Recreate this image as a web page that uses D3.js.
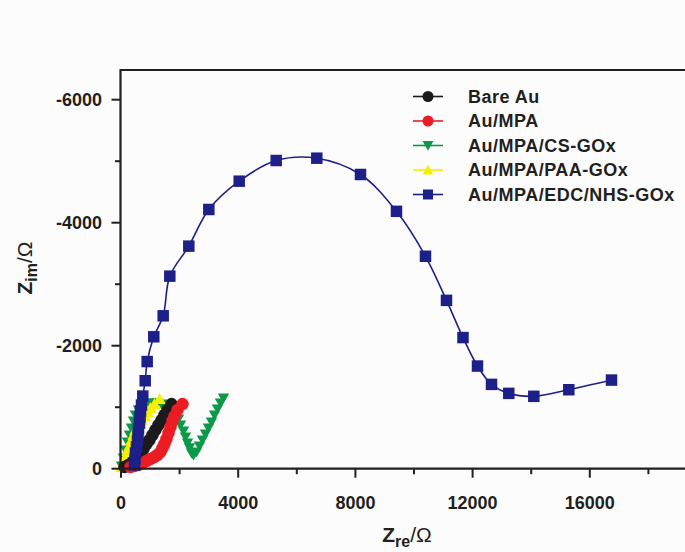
<!DOCTYPE html>
<html>
<head>
<meta charset="utf-8">
<script src="https://cdn.jsdelivr.net/npm/d3@7"></script>
<style>
  body { margin: 0; background: #fcfcfc; }
  svg { display: block; font-family: "Liberation Sans", Arial, sans-serif; }
</style>
</head>
<body>
<svg id="chart" width="685" height="552"></svg>
<script>
// series data (Zre, Zim in ohm)
var bareAuRe = [119, 256, 392, 529, 665, 768, 870, 973, 1075, 1177, 1280, 1382, 1484, 1587, 1724]
var bareAuIm = [-28, -60, -109, -174, -239, -320, -401, -466, -548, -629, -710, -791, -873, -954, -1051]

var mpaRe = [324, 461, 597, 734, 870, 1007, 1143, 1246, 1348, 1416, 1484, 1553, 1621, 1689, 1758, 1826, 1928, 2099]
var mpaIm = [-28, -44, -60, -93, -125, -158, -190, -223, -271, -336, -401, -483, -580, -678, -775, -856, -954, -1051]

var csRe = [17, 85, 154, 222, 290, 358, 427, 495, 597, 700, 836, 973, 1109, 1246, 1382, 1519, 1655, 1758, 1860, 1962,
            2031, 2133, 2201, 2270, 2338, 2406, 2474, 2577, 2679, 2782, 2884, 2986, 3089, 3191, 3294, 3396, 3498]
var csIm = [-44, -174, -304, -434, -548, -661, -775, -873, -954, -1019, -1052, -1068, -1068, -1068, -1052, -1035, -1003, -954, -889, -808,
            -710, -613, -515, -418, -337, -255, -223, -271, -369, -466, -564, -661, -759, -873, -970, -1068, -1149]

var paaRe = [17, 85, 154, 222, 290, 358, 427, 495, 597, 700, 802, 904, 1007, 1143, 1314]
var paaIm = [-28, -109, -190, -288, -369, -466, -548, -629, -710, -791, -856, -921, -987, -1052, -1133]

var edcRe = [461, 478, 495, 529, 563, 580, 597, 631, 648, 666, 700, 744, 826, 894, 1119, 1440, 1666, 2314, 2997, 4034,
             5297, 6683, 8174, 9402, 10392, 11109, 11672, 12167, 12645, 13235, 14089, 15283, 16741]
var edcIm = [-60, -158, -255, -353, -451, -548, -646, -743, -840, -938, -1035, -1181, -1430, -1742, -2145, -2486, -3131, -3619, -4215, -4675,
             -5011, -5049, -4784, -4185, -3454, -2737, -2132, -1669, -1371, -1225, -1177, -1284, -1441]

var seriesNames = ["Bare Au", "Au/MPA", "Au/MPA/CS-GOx", "Au/MPA/PAA-GOx", "Au/MPA/EDC/NHS-GOx"]
var seriesColors = ["#1c1a1b", "#ec1c24", "#0d9a48", "#f7ef00", "#1e2089"]
var seriesSymbols = ["circle", "circle", "triDown", "triUp", "square"]

var xTicks = [0, 2000, 4000, 6000, 8000, 10000, 12000, 14000, 16000, 18000]
var xLabels = [0, 4000, 8000, 12000, 16000]
var yTicks = [0, -1000, -2000, -3000, -4000, -5000, -6000]
var yLabels = [0, -2000, -4000, -6000]

var svg = d3.select("#chart")

//plot area
var dims = { left: 120.5, top: 70, bottom: 468.7, right: 685 }

var x = d3.scaleLinear().domain([0, 16000]).range([121, 589.8])
var y = d3.scaleLinear().domain([0, -6000]).range([468.7, 99.7])

var series = [
    { re: bareAuRe, im: bareAuIm },
    { re: mpaRe, im: mpaIm },
    { re: csRe, im: csIm },
    { re: paaRe, im: paaIm },
    { re: edcRe, im: edcIm }
]
series.forEach((s, i) => {
    s.name = seriesNames[i]
    s.color = seriesColors[i]
    s.symbol = seriesSymbols[i]
    s.points = s.re.map((r, j) => [r, s.im[j]])
})

function symbolPath(type, size) {
    var h = size / 2
    if (type === "triDown") {
        return "M" + (-h) + "," + (-h * 0.8) + "L" + h + "," + (-h * 0.8) + "L0," + (h * 0.95) + "Z"
    }
    if (type === "triUp") {
        return "M" + (-h) + "," + (h * 0.8) + "L" + h + "," + (h * 0.8) + "L0," + (-h * 0.95) + "Z"
    }
    if (type === "square") {
        return "M" + (-h) + "," + (-h) + "H" + h + "V" + h + "H" + (-h) + "Z"
    }
    return d3.arc()({ innerRadius: 0, outerRadius: h, startAngle: 0, endAngle: 2 * Math.PI })
}
var markerSize = { circle: 12.5, triDown: 11.5, triUp: 12.5, square: 11.5 }

//draw order: green, yellow, black, red, blue
var drawOrder = [2, 3, 0, 1, 4]
var line = d3.line().x(d => x(d[0])).y(d => y(d[1])).curve(d3.curveCatmullRom.alpha(0.5))

var plot = svg.append("g")
drawOrder.forEach(i => {
    var s = series[i]
    var g = plot.append("g")
    g.append("path")
     .attr("d", line(s.points))
     .attr("fill", "none")
     .attr("stroke", s.color)
     .attr("stroke-width", 1.6)
    g.selectAll("path.mk")
     .data(s.points)
     .enter()
     .append("path")
     .attr("class", "mk")
     .attr("transform", d => "translate(" + x(d[0]) + "," + y(d[1]) + ")")
     .attr("d", symbolPath(s.symbol, markerSize[s.symbol]))
     .attr("fill", s.color)
})

//frame + axes
var axisColor = "#231f20"
svg.append("path")
   .attr("d", "M" + dims.right + "," + dims.top + "H" + dims.left + "V" + dims.bottom + "H" + dims.right)
   .attr("fill", "none")
   .attr("stroke", axisColor)
   .attr("stroke-width", 2.2)

svg.append("g").selectAll("line")
   .data(xTicks)
   .enter()
   .append("line")
   .attr("x1", d => x(d)).attr("x2", d => x(d))
   .attr("y1", dims.bottom)
   .attr("y2", d => dims.bottom + (d % 4000 === 0 ? 9 : 5.5))
   .attr("stroke", axisColor)
   .attr("stroke-width", 2)

svg.append("g").selectAll("line")
   .data(yTicks)
   .enter()
   .append("line")
   .attr("y1", d => y(d)).attr("y2", d => y(d))
   .attr("x1", dims.left)
   .attr("x2", d => dims.left - (d % 2000 === 0 ? 9 : 5.5))
   .attr("stroke", axisColor)
   .attr("stroke-width", 2)

svg.append("g").selectAll("text")
   .data(xLabels)
   .enter()
   .append("text")
   .attr("x", d => x(d))
   .attr("y", 509)
   .attr("text-anchor", "middle")
   .attr("font-size", 18)
   .attr("font-weight", "bold")
   .attr("fill", axisColor)
   .text(d => d)

svg.append("g").selectAll("text")
   .data(yLabels)
   .enter()
   .append("text")
   .attr("x", 102)
   .attr("y", d => y(d) + 6.5)
   .attr("text-anchor", "end")
   .attr("font-size", 18)
   .attr("font-weight", "bold")
   .attr("fill", axisColor)
   .text(d => d)

//axis titles
var xt = svg.append("text")
   .attr("x", 407)
   .attr("y", 542)
   .attr("text-anchor", "middle")
   .attr("fill", axisColor)
   .attr("font-size", 21)
xt.append("tspan").attr("font-weight", "bold").text("Z")
xt.append("tspan").attr("font-weight", "bold").attr("font-size", 16).attr("dy", 5).text("re")
xt.append("tspan").attr("dy", -5).text("/Ω")

var yt = svg.append("text")
   .attr("transform", "translate(32,268) rotate(-90)")
   .attr("text-anchor", "middle")
   .attr("fill", axisColor)
   .attr("font-size", 21)
yt.append("tspan").attr("font-weight", "bold").text("Z")
yt.append("tspan").attr("font-weight", "bold").attr("font-size", 16).attr("dy", 5).text("im")
yt.append("tspan").attr("dy", -5).text("/Ω")

//legend
var legend = svg.append("g")
series.forEach((s, i) => {
    var ly = 96.5 + i * 24.5
    legend.append("line")
          .attr("x1", 413).attr("x2", 443)
          .attr("y1", ly).attr("y2", ly)
          .attr("stroke", s.color)
          .attr("stroke-width", 1.6)
    legend.append("path")
          .attr("transform", "translate(428," + ly + ")")
          .attr("d", symbolPath(s.symbol, s.symbol === "square" ? 10 : 11))
          .attr("fill", s.color)
    legend.append("text")
          .attr("x", 468)
          .attr("y", ly + 6.3)
          .attr("font-size", 18)
          .attr("font-weight", "bold")
          .attr("letter-spacing", 0.5)
          .attr("fill", axisColor)
          .text(s.name)
})
</script>
</body>
</html>
